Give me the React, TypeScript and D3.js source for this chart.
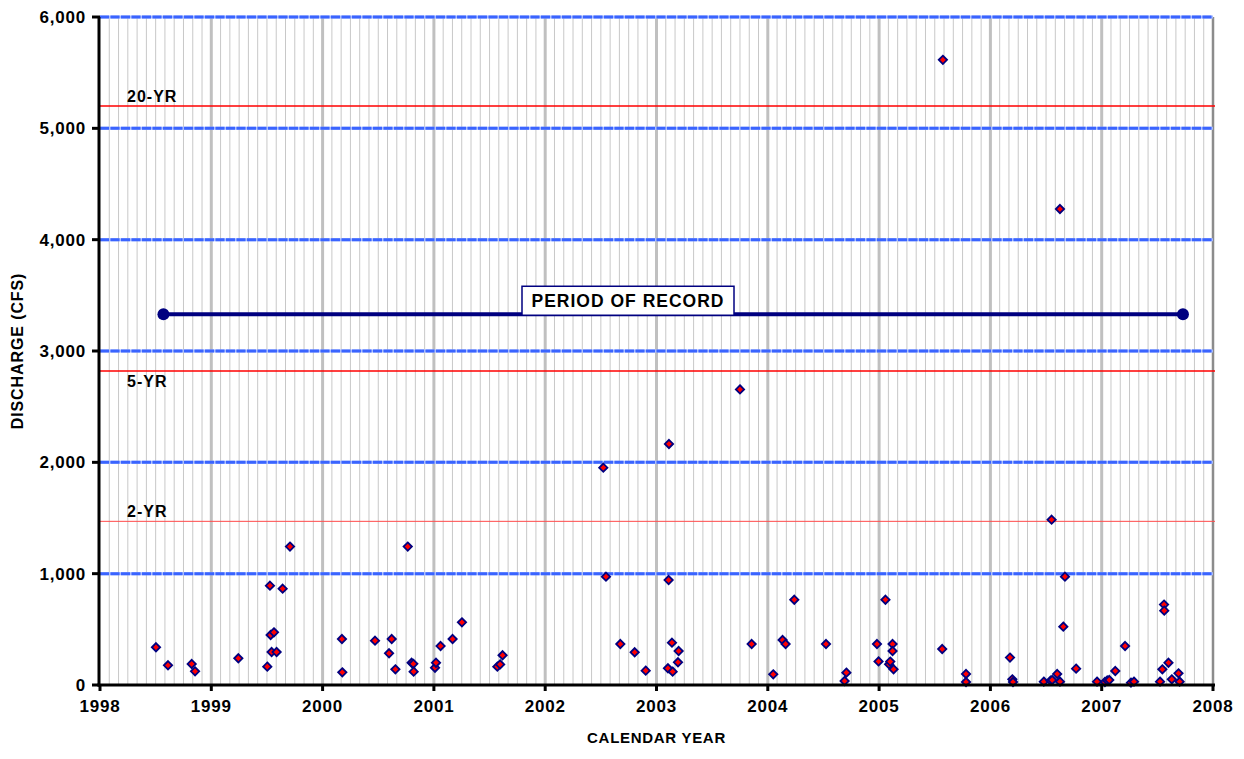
import React from "react";
import * as d3 from "d3";

// ---- data ----
const sampleDates: number[] = [
  1998.503, 1998.611, 1998.824, 1998.854, 1999.243, 1999.503, 1999.527, 1999.533, 1999.563, 1999.542,
  1999.587, 1999.641, 1999.707, 2000.174, 2000.177, 2000.471, 2000.597, 2000.621, 2000.654, 2000.765,
  2000.8, 2000.815, 2000.818, 2001.01, 2001.019, 2001.06, 2001.168, 2001.252, 2001.57, 2001.595,
  2001.617, 2002.522, 2002.546, 2002.675, 2002.804, 2002.903, 2003.103, 2003.109, 2003.112, 2003.139,
  2003.145, 2003.193, 2003.199, 2003.75, 2003.855, 2004.049, 2004.133, 2004.16, 2004.238, 2004.523,
  2004.69, 2004.706, 2004.981, 2004.995, 2005.057, 2005.09, 2005.1, 2005.121, 2005.121, 2005.13,
  2005.567, 2005.573, 2005.781, 2005.781, 2006.176, 2006.197, 2006.203, 2006.48, 2006.54, 2006.55,
  2006.555, 2006.6, 2006.625, 2006.625, 2006.655, 2006.67, 2006.77, 2006.958, 2007.029, 2007.05,
  2007.068, 2007.122, 2007.21, 2007.263, 2007.29, 2007.524, 2007.545, 2007.56, 2007.562, 2007.6,
  2007.63, 2007.69, 2007.7,
];
const discharge: number[] = [
  339, 177, 189, 123, 240, 165, 892, 449, 473, 296,
  296, 865, 1243, 413, 114, 398, 285, 413, 141, 1243,
  200, 190, 120, 155, 200, 350, 413, 563, 165, 185,
  267, 1952, 973, 368, 294, 129, 150, 943, 2165, 380,
  120, 204, 305, 2655, 368, 96, 404, 368, 766, 368,
  36, 111, 368, 212, 766, 186, 210, 368, 305, 141,
  323, 5615, 99, 27, 246, 51, 27, 30, 39, 1485,
  45, 99, 30, 4275, 524, 973, 147, 30, 27, 40,
  45, 126, 350, 21, 30, 30, 141, 722, 668, 200,
  51, 105, 30,
];

const yearTicks: number[] = [1998, 1999, 2000, 2001, 2002, 2003, 2004, 2005, 2006, 2007, 2008];
const dischargeTicks: number[] = [0, 1000, 2000, 3000, 4000, 5000, 6000];

const returnPeriodLabels: string[] = ["20-YR", "5-YR", "2-YR"];
const returnPeriodValues: number[] = [5200, 2820, 1470];

const recordStart = 1998.57;
const recordEnd = 2007.73;
const recordLevel = 3330;
const recordLabel = "PERIOD OF RECORD";

const xTitle = "CALENDAR YEAR";
const yTitle = "DISCHARGE (CFS)";

export default function App() {
  const W = 1244;
  const H = 759;
  const left = 100;
  const right = 1213;
  const top = 17;
  const bottom = 685;

  const x = d3.scaleLinear().domain([1998, 2008]).range([left, right]);
  const y = d3.scaleLinear().domain([0, 6000]).range([bottom, top]);
  const fmt = d3.format(",");

  const months: number[] = [];
  for (let yr = 1998; yr < 2008; yr++) {
    for (let m = 1; m < 12; m++) months.push(yr + m / 12);
  }

  const diamond = d3.symbol().type(d3.symbolDiamond2).size(44)() as string;
  const font = "'Liberation Sans', Arial, sans-serif";

  const boxX = 522;
  const boxW = 212;

  return (
    <svg
      width={W}
      height={H}
      style={{ position: "absolute", left: 0, top: 0, background: "#fff" }}
      fontFamily={font}
    >
      {/* minor monthly gridlines */}
      {months.map((m, i) => (
        <line key={"m" + i} x1={x(m)} x2={x(m)} y1={top} y2={bottom} stroke="#c8c8c8" strokeWidth={1} />
      ))}
      {/* yearly gridlines */}
      {yearTicks.slice(1, -1).map((t) => (
        <line key={"yg" + t} x1={x(t)} x2={x(t)} y1={top} y2={bottom} stroke="#c0c0c0" strokeWidth={3} />
      ))}
      {/* right border */}
      <line x1={right} x2={right} y1={top} y2={bottom} stroke="#8c8c8c" strokeWidth={2.5} />
      {/* horizontal blue gridlines */}
      {dischargeTicks.slice(1).map((t) => (
        <g key={"hg" + t}>
          <line x1={left} x2={right} y1={y(t)} y2={y(t)} stroke="#a8bcff" strokeWidth={3} />
          <line x1={left} x2={right} y1={y(t)} y2={y(t)} stroke="#3a64ff" strokeWidth={3} strokeDasharray="9 1.5" />
        </g>
      ))}
      {/* return period lines */}
      {returnPeriodValues.map((v, i) => (
        <g key={"rp" + i}>
          <line
            x1={left}
            x2={right + 2}
            y1={y(v)}
            y2={y(v)}
            stroke={i === 2 ? "#ff4a4a" : "#ff0000"}
            strokeWidth={i === 2 ? 1 : 1.5}
          />
          <text
            x={127}
            y={i === 1 ? y(v) + 16 : y(v) - 4}
            fontSize={16}
            fontWeight="bold"
            letterSpacing={1}
            fill="#000"
          >
            {returnPeriodLabels[i]}
          </text>
        </g>
      ))}
      {/* period of record */}
      <line x1={x(recordStart)} x2={x(recordEnd)} y1={y(recordLevel)} y2={y(recordLevel)} stroke="#000080" strokeWidth={4} />
      <circle cx={x(recordStart)} cy={y(recordLevel)} r={6} fill="#000080" />
      <circle cx={x(recordEnd)} cy={y(recordLevel)} r={6} fill="#000080" />
      <rect x={boxX} y={y(recordLevel) - 28} width={boxW} height={29} fill="#fff" stroke="#000080" strokeWidth={1.5} />
      <text
        x={boxX + boxW / 2}
        y={y(recordLevel) - 7}
        textAnchor="middle"
        fontSize={17.5}
        fontWeight="bold"
        letterSpacing={1}
      >
        {recordLabel}
      </text>
      {/* points */}
      {sampleDates.map((d, i) => (
        <path
          key={"p" + i}
          d={diamond}
          transform={`translate(${x(d)},${y(discharge[i])})`}
          fill="#ff0000"
          stroke="#000080"
          strokeWidth={1.8}
        />
      ))}
      {/* axes */}
      <line x1={left - 1} x2={left - 1} y1={top} y2={bottom + 1.5} stroke="#000" strokeWidth={3} />
      <line x1={left - 2.5} x2={right + 2} y1={bottom} y2={bottom} stroke="#000" strokeWidth={3} />
      {dischargeTicks.map((t) => (
        <g key={"yt" + t}>
          <line x1={left - 8} x2={left} y1={y(t)} y2={y(t)} stroke="#000" strokeWidth={3} />
          <text x={86} y={y(t) + 6} textAnchor="end" fontSize={17} fontWeight="bold" letterSpacing={0.8}>
            {fmt(t)}
          </text>
        </g>
      ))}
      {yearTicks.map((t) => (
        <g key={"xt" + t}>
          <line x1={x(t)} x2={x(t)} y1={bottom} y2={bottom + 6} stroke="#000" strokeWidth={3} />
          <text x={x(t)} y={712} textAnchor="middle" fontSize={17} fontWeight="bold" letterSpacing={0.8}>
            {t}
          </text>
        </g>
      ))}
      <text x={(left + right) / 2} y={743} textAnchor="middle" fontSize={15} fontWeight="bold" letterSpacing={0.7}>
        {xTitle}
      </text>
      <text
        transform={`translate(23,${(top + bottom) / 2}) rotate(-90)`}
        textAnchor="middle"
        fontSize={16}
        fontWeight="bold"
        letterSpacing={0.9}
      >
        {yTitle}
      </text>
    </svg>
  );
}
